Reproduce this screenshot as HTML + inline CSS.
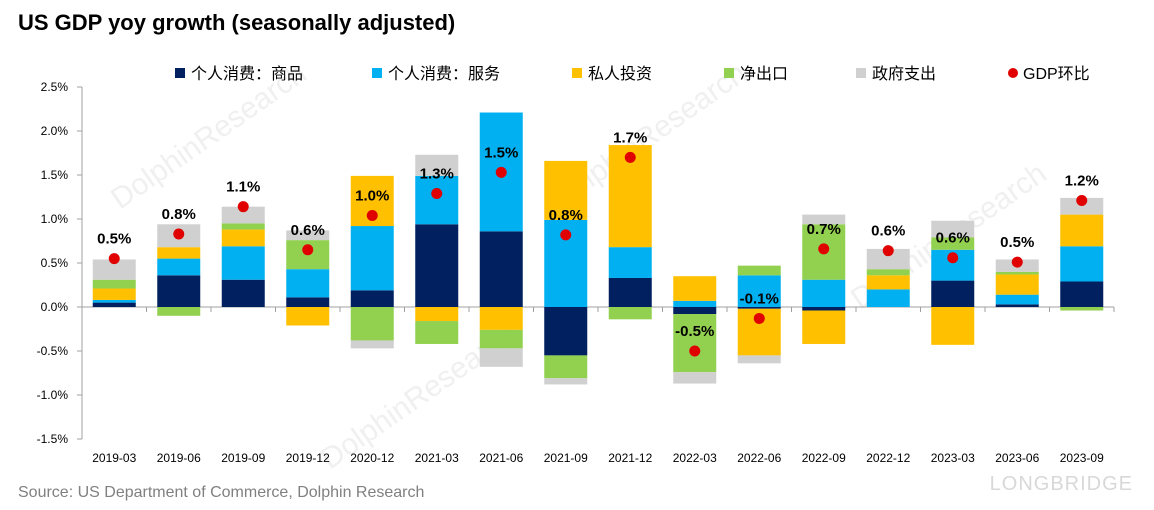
<!DOCTYPE html>
<html><head><meta charset="utf-8">
<style>
body{margin:0;background:#fff;width:1154px;height:510px;overflow:hidden;font-family:"Liberation Sans","Noto Sans CJK SC",sans-serif;}
svg{display:block}
</style></head>
<body>
<svg id="chart" width="1154" height="510">
  <text x="18" y="30" font-size="22" font-weight="bold" fill="#000">US GDP yoy growth (seasonally adjusted)</text>
  <g fill="#f0f0f0" font-size="30">
    <text x="120" y="210" transform="rotate(-35 120 210)">DolphinResearch</text>
    <text x="560" y="210" transform="rotate(-35 560 210)">DolphinResearch</text>
    <text x="860" y="310" transform="rotate(-35 860 310)">DolphinResearch</text>
    <text x="330" y="470" transform="rotate(-35 330 470)">DolphinResearch</text>
  </g>
  <g id="legend" font-size="16" fill="#000"></g>
  <g id="axes"></g>
  <g id="bars"></g>
  <g id="dots"></g>
  <text x="18" y="497" font-size="16" fill="#808080">Source: US Department of Commerce, Dolphin Research</text>
  <text x="1133" y="490" font-size="20" fill="#d8d8d8" text-anchor="end" letter-spacing="1">LONGBRIDGE</text>
</svg>
<script>
const categories=["2019-03","2019-06","2019-09","2019-12","2020-12","2021-03","2021-06","2021-09","2021-12","2022-03","2022-06","2022-09","2022-12","2023-03","2023-06","2023-09"];
const goods=[0.05,0.36,0.31,0.11,0.19,0.94,0.86,-0.55,0.33,-0.08,-0.02,-0.04,0,0.30,0.03,0.29];
const services=[0.03,0.19,0.38,0.32,0.73,0.55,1.35,0.99,0.35,0.07,0.36,0.31,0.20,0.35,0.11,0.40];
const investment=[0.13,0.13,0.19,-0.21,0.57,-0.16,-0.26,0.67,1.16,0.28,-0.53,-0.38,0.16,-0.43,0.23,0.36];
const netExports=[0.10,-0.10,0.07,0.33,-0.38,-0.26,-0.21,-0.26,-0.14,-0.66,0.11,0.63,0.07,0.14,0.03,-0.04];
const government=[0.23,0.26,0.19,0.11,-0.09,0.24,-0.21,-0.07,0,-0.13,-0.09,0.11,0.23,0.19,0.14,0.19];
const gdpQoq=[0.55,0.83,1.14,0.65,1.04,1.29,1.53,0.82,1.70,-0.50,-0.13,0.66,0.64,0.56,0.51,1.21];
const gdpLabels=["0.5%","0.8%","1.1%","0.6%","1.0%","1.3%","1.5%","0.8%","1.7%","-0.5%","-0.1%","0.7%","0.6%","0.6%","0.5%","1.2%"];
const yTicks=[2.5,2.0,1.5,1.0,0.5,0,-0.5,-1.0,-1.5];
const seriesNames=["个人消费：商品","个人消费：服务","私人投资","净出口","政府支出"];
const seriesColors=["#002060","#00b0f0","#ffc000","#92d050","#d0d0d0"];

const NS="http://www.w3.org/2000/svg";
const X0=82,X1=1114,Y0=307,PPU=88;
const band=(X1-X0)/categories.length;
const xc=i=>X0+band*(i+0.5);
const y=v=>Y0-v*PPU;
function mk(tag,attrs,parent){const e=document.createElementNS(NS,tag);for(const k in attrs)e.setAttribute(k,attrs[k]);parent.appendChild(e);return e;}

const axes=document.getElementById('axes');
mk('line',{x1:X0,y1:y(2.5),x2:X0,y2:y(-1.5),stroke:'#a0a0a0'},axes);
yTicks.forEach(t=>{
  mk('line',{x1:X0-5,y1:y(t),x2:X0,y2:y(t),stroke:'#a0a0a0'},axes);
  const lb=mk('text',{x:X0-14,y:y(t)+4,'font-size':12,'text-anchor':'end',fill:'#000'},axes);
  lb.textContent=t.toFixed(1)+'%';
  
  
});
mk('line',{x1:X0,y1:Y0,x2:X1,y2:Y0,stroke:'#a0a0a0'},axes);
for(let i=0;i<=categories.length;i++){mk('line',{x1:X0+band*i,y1:Y0,x2:X0+band*i,y2:Y0+5,stroke:'#a0a0a0'},axes);}
categories.forEach((c,i)=>{
  const lb=mk('text',{x:xc(i),y:462,'font-size':12,'text-anchor':'middle',fill:'#000'},axes);
  lb.textContent=c;
  
  
});

const series=[goods,services,investment,netExports,government];
const bars=document.getElementById('bars');
const BW=43;
categories.forEach((c,i)=>{
  let pos=0,neg=0;
  series.forEach((s,k)=>{
    const v=s[i];if(!v)return;
    let a,b;
    if(v>0){a=pos;b=pos+v;pos=b;}else{a=neg;b=neg+v;neg=b;}
    const r=mk('rect',{x:xc(i)-BW/2,y:Math.min(y(a),y(b)),width:BW,height:Math.abs(y(a)-y(b)),fill:seriesColors[k]},bars);
    
    
  });
});

const dots=document.getElementById('dots');
gdpQoq.forEach((v,i)=>{
  const d=mk('circle',{cx:xc(i),cy:y(v),r:5.5,fill:'#e00000'},dots);
  
  
  const t=mk('text',{x:xc(i),y:y(v)-15,'font-size':15,'font-weight':'bold','text-anchor':'middle',fill:'#000'},dots);
  t.textContent=gdpLabels[i];
  
  
});

const legend=document.getElementById('legend');
const lx=[175,372,572,724,856];
seriesNames.forEach((n,k)=>{
  const g=mk('g',{},legend);
  
  
  mk('rect',{x:lx[k],y:68,width:10,height:10,fill:seriesColors[k]},g);
  const t=mk('text',{x:lx[k]+16,y:79,'font-size':16},g);t.textContent=n;
});
const g2=mk('g',{},legend);


mk('circle',{cx:1013,cy:73,r:5,fill:'#e00000'},g2);
const t2=mk('text',{x:1023,y:79,'font-size':16},g2);t2.textContent="GDP环比";
</script>
</body></html>
